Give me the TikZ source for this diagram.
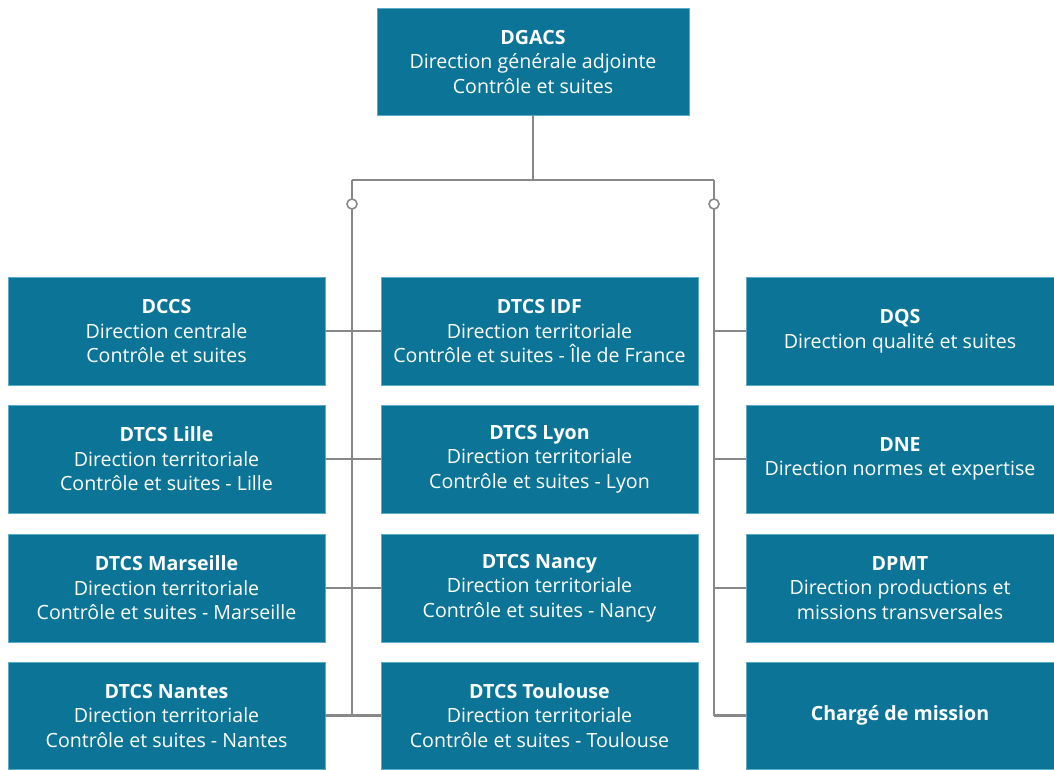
\documentclass[tikz,border=0pt]{standalone}
\usepackage{fontspec}
\setmainfont{Open Sans}
\definecolor{boxfill}{RGB}{12,117,151}
\definecolor{boxedge}{RGB}{90,170,200}
\definecolor{linegray}{RGB}{136,136,136}
\begin{document}
\begin{tikzpicture}[x=1pt,y=-1pt,
  box/.style={draw=boxedge, line width=0.8pt, fill=boxfill, text=white, align=center,
    inner sep=0pt, font=\fontsize{19.6}{24.5}\selectfont},
  colbox/.style={box, minimum width=317pt, minimum height=108pt},
  rbox/.style={box, minimum width=308pt, minimum height=108pt},
  conn/.style={draw=linegray, line width=2.4pt},
  ring/.style={circle, draw=linegray, fill=white, line width=1.6pt, minimum size=10pt, inner sep=0pt}]
\useasboundingbox (0,0) rectangle (1054,769);

\node[box, minimum width=312pt, minimum height=107pt] (dgacs) at (533,61.5)
  {\raisebox{-3pt}{\parbox{310pt}{\centering\textbf{DGACS}\\Direction générale adjointe\\Contrôle et suites}}};

\node[colbox] (dccs) at (166.5,331) {\textbf{DCCS}\\Direction centrale\\Contrôle et suites};
\node[colbox] (lille) at (166.5,459) {\textbf{DTCS Lille}\\Direction territoriale\\Contrôle et suites - Lille};
\node[colbox] (mars) at (166.5,588) {\textbf{DTCS Marseille}\\Direction territoriale\\Contrôle et suites - Marseille};
\node[colbox, minimum height=107pt] (nantes) at (166.5,715.5) {\textbf{DTCS Nantes}\\Direction territoriale\\Contrôle et suites - Nantes};

\node[colbox] (idf) at (539.5,331) {\textbf{DTCS IDF}\\Direction territoriale\\Contrôle et suites - Île de France};
\node[colbox] (lyon) at (539.5,459) {\textbf{DTCS Lyon}\\Direction territoriale\\Contrôle et suites - Lyon};
\node[colbox] (nancy) at (539.5,588) {\textbf{DTCS Nancy}\\Direction territoriale\\Contrôle et suites - Nancy};
\node[colbox, minimum height=107pt] (toul) at (539.5,715.5) {\textbf{DTCS Toulouse}\\Direction territoriale\\Contrôle et suites - Toulouse};

\node[rbox] (dqs) at (900,331) {\textbf{DQS}\\Direction qualité et suites};
\node[rbox] (dne) at (900,459) {\textbf{DNE}\\Direction normes et expertise};
\node[rbox] (dpmt) at (900,588) {\textbf{DPMT}\\Direction productions et\\missions transversales};
\node[rbox, minimum height=107pt] (cm) at (900,715.5) {\textbf{Chargé de mission}};

\coordinate (top) at (533,180);
\coordinate (lt) at (352,180);
\coordinate (rt) at (714,180);
\coordinate (lb) at (352,716);
\coordinate (rb) at (714,716);

\draw[conn] (dgacs.south) -- (top);
\draw[conn] (lt) -- (rt);
\draw[conn] (lt) -- (lb);
\draw[conn] (rt) -- (rb);

\foreach \a/\b in {dccs/idf, lille/lyon, mars/nancy, nantes/toul}
  \draw[conn] (\a.east) -- (\b.west);
\foreach \c in {dqs, dne, dpmt, cm}
  \draw[conn] (714,0 |- \c.west) -- (\c.west);

\node[ring] (rl) at (352,204) {};
\node[ring] (rr) at (714,204) {};
\end{tikzpicture}
\end{document}
